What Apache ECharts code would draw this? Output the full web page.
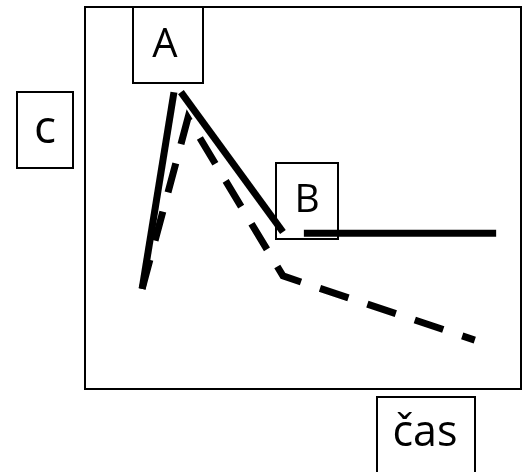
<!DOCTYPE html>
<html>
<head>
<meta charset="UTF-8">
<title>c - čas</title>
<script src="https://cdn.jsdelivr.net/npm/echarts@6/dist/echarts.min.js"></script>
<style>
  html, body { margin: 0; padding: 0; background: #fff; }
  #chart { width: 522px; height: 472px; }
</style>
</head>
<body>
<div id="chart"></div>
<script type="text/javascript">
// čas (x) a koncentrace c (y), relativní jednotky 0-100
var solidUp = [[13.1, 26.2], [20.4, 77.7]];
var solidDown = [[22.0, 77.7], [45.4, 41.1]];
var solidFlat = [[50.2, 40.8], [94.3, 40.8]];
var dashed = [[13.1, 26.2], [23.6, 70.9], [45.4, 29.6], [89.4, 12.8]];

var labelFont = '"Open Sans", "DejaVu Sans", sans-serif';

function box(x, y, w, h, text, size, tx, ty) {
  return {
    type: 'group',
    z: 1,
    children: [
      { type: 'rect', shape: { x: x, y: y, width: w, height: h },
        style: { fill: 'none', stroke: '#000', lineWidth: 2 } },
      { type: 'text', x: tx, y: ty,
        style: { text: text, fill: '#000', font: size + 'px ' + labelFont,
                 align: 'center', verticalAlign: 'middle' } }
    ]
  };
}

function lineSeries(data, dashed) {
  return {
    type: 'line',
    data: data,
    symbol: 'none',
    silent: true,
    z: 5,
    lineStyle: {
      color: '#000',
      width: 7,
      type: dashed ? [30, 20] : 'solid',
      cap: 'butt',
      join: 'miter'
    }
  };
}

var myChart = echarts.init(document.getElementById('chart'));
var option = {
  animation: false,
  backgroundColor: '#fff',
  grid: {
    left: 85, top: 7, right: 1, bottom: 83,
    show: true, borderColor: '#000', borderWidth: 2, backgroundColor: 'transparent'
  },
  xAxis: {
    type: 'value', min: 0, max: 100,
    axisLine: { show: false }, axisTick: { show: false },
    axisLabel: { show: false }, splitLine: { show: false }
  },
  yAxis: {
    type: 'value', min: 0, max: 100,
    axisLine: { show: false }, axisTick: { show: false },
    axisLabel: { show: false }, splitLine: { show: false }
  },
  series: [
    lineSeries(solidUp, false),
    lineSeries(solidDown, false),
    lineSeries(solidFlat, false),
    lineSeries(dashed, true)
  ],
  graphic: [
    box(133, 7, 70, 76, 'A', 40, 165, 46),
    box(17, 92, 56, 76, 'c', 46, 45, 130),
    box(276, 163, 62, 76, 'B', 39, 307, 201),
    box(377, 397, 98, 90, 'čas', 43, 425, 434)
  ]
};
myChart.setOption(option);
</script>
</body>
</html>
